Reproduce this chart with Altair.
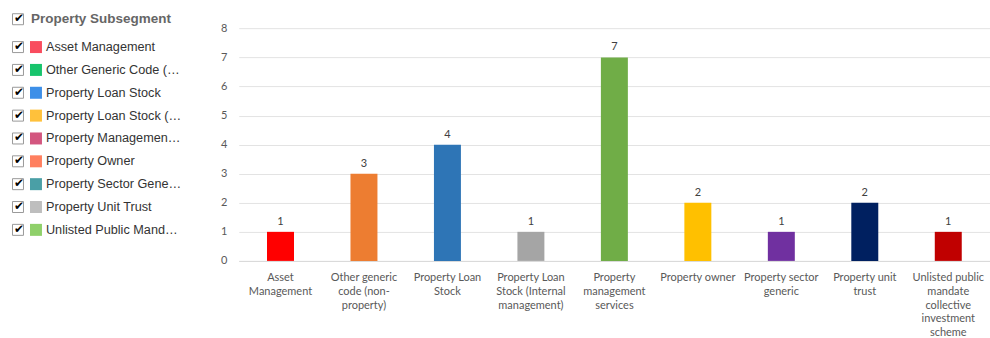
import altair as alt
import pandas as pd

# ---- bar chart data ----
categories = [
    "Asset Management",
    "Other generic code (non-property)",
    "Property Loan Stock",
    "Property Loan Stock (Internal management)",
    "Property management services",
    "Property owner",
    "Property sector generic",
    "Property unit trust",
    "Unlisted public mandate collective investment scheme",
]
wrapped_labels = [
    "Asset|Management",
    "Other generic|code (non-|property)",
    "Property Loan|Stock",
    "Property Loan|Stock (Internal|management)",
    "Property|management|services",
    "Property owner",
    "Property sector|generic",
    "Property unit|trust",
    "Unlisted public|mandate|collective|investment|scheme",
]
counts = [1, 3, 4, 1, 7, 2, 1, 2, 1]
bar_colors = ["#FF0000", "#ED7D31", "#2E75B6", "#A5A5A5", "#70AD47",
              "#FFC000", "#7030A0", "#002060", "#C00000"]
y_ticks = [0, 1, 2, 3, 4, 5, 6, 7, 8]

# ---- legend data ----
legend_title = "Property Subsegment"
legend_names = [
    "Asset Management",
    "Other Generic Code (Non-Property)",
    "Property Loan Stock",
    "Property Loan Stock (Internal Management)",
    "Property Management Services",
    "Property Owner",
    "Property Sector Generic",
    "Property Unit Trust",
    "Unlisted Public Mandate Collective Investment Scheme",
]
legend_colors = ["#F94C5E", "#17C46C", "#3D8FE8", "#FFC13B", "#D3567F",
                 "#FF7F5F", "#4A9FA6", "#BEBEBE", "#8FD06A"]

# ---- bar chart ----
bars_df = pd.DataFrame({"label": wrapped_labels, "category": categories,
                        "count": counts, "color": bar_colors})

x_enc = alt.X(
    "label:N", sort=wrapped_labels,
    scale=alt.Scale(paddingInner=0, paddingOuter=0),
    axis=alt.Axis(title=None, labelAngle=0, labelExpr="split(datum.label, '|')",
                  ticks=False, domain=True, domainColor="#D9D9D9", domainWidth=1,
                  labelColor="#595959", labelFont="Lato", labelFontSize=11,
                  labelLineHeight=13.7, labelPadding=11, labelLimit=0,
                  labelOverlap=False, labelBaseline="top"),
)
y_enc = alt.Y(
    "count:Q",
    scale=alt.Scale(domain=[0, 8.8], nice=False),
    axis=alt.Axis(title=None, values=y_ticks, domain=False, ticks=False,
                  grid=True, gridColor="#E3E3E3", gridWidth=1,
                  labelColor="#595959", labelFont="Lato", labelFontSize=11,
                  labelPadding=12),
)

base = alt.Chart(bars_df).encode(x=x_enc, y=y_enc)
bars = base.mark_bar(size=27).encode(color=alt.Color("color:N", scale=None))
values = base.mark_text(dy=-10, baseline="middle", font="Lato", fontSize=11,
                        color="#404040").encode(text="count:Q")
bar_chart = alt.layer(bars, values).properties(width=752, height=256)

# ---- legend panel ----
rows = [legend_title] + legend_names
leg_df = pd.DataFrame({"name": legend_names, "color": legend_colors})
title_df = pd.DataFrame({"name": [legend_title]})

yl = alt.Y("name:N", sort=rows,
           scale=alt.Scale(type="point", domain=rows, padding=0.834), axis=None)

item_box = alt.Chart(leg_df).mark_square(size=121, fill="white", stroke="#9A9A9A",
                                         strokeWidth=1, opacity=1).encode(
    x=alt.value(18), y=yl)
item_check = alt.Chart(leg_df).mark_text(text="\u2714", font="DejaVu Sans", fontSize=12,
                                         color="#000000", baseline="middle",
                                         align="center", dx=1, dy=-1).encode(
    x=alt.value(18), y=yl)
item_swatch = alt.Chart(leg_df).mark_square(size=144, opacity=1).encode(
    x=alt.value(36), y=yl, color=alt.Color("color:N", scale=None))
item_text = alt.Chart(leg_df).mark_text(align="left", baseline="middle",
                                        font="Liberation Sans", fontSize=12.7,
                                        color="#333333", limit=135.5).encode(
    x=alt.value(46), y=yl, text="name:N")

title_box = alt.Chart(title_df).mark_square(size=121, fill="white", stroke="#9A9A9A",
                                            strokeWidth=1, opacity=1,
                                            yOffset=-5).encode(
    x=alt.value(18), y=yl)
title_check = alt.Chart(title_df).mark_text(text="\u2714", font="DejaVu Sans", fontSize=12,
                                            color="#000000", baseline="middle",
                                            align="center", dx=1, dy=-6).encode(
    x=alt.value(18), y=yl)
title_text = alt.Chart(title_df).mark_text(align="left", baseline="middle",
                                           font="Liberation Sans", fontSize=13.5,
                                           fontWeight="bold", color="#666666",
                                           dy=-5).encode(
    x=alt.value(31), y=yl, text="name:N")

legend_panel = alt.layer(item_box, item_check, item_swatch, item_text,
                         title_box, title_check, title_text).properties(
    width=200, height=244)

chart = alt.hconcat(legend_panel, bar_chart, spacing=20).properties(
    padding={"left": 0, "top": 5, "right": 0, "bottom": 0},
    background="white",
).configure_view(stroke=None, strokeWidth=0)

chart.save("out.html", embed_options={"renderer": "svg", "actions": False})
